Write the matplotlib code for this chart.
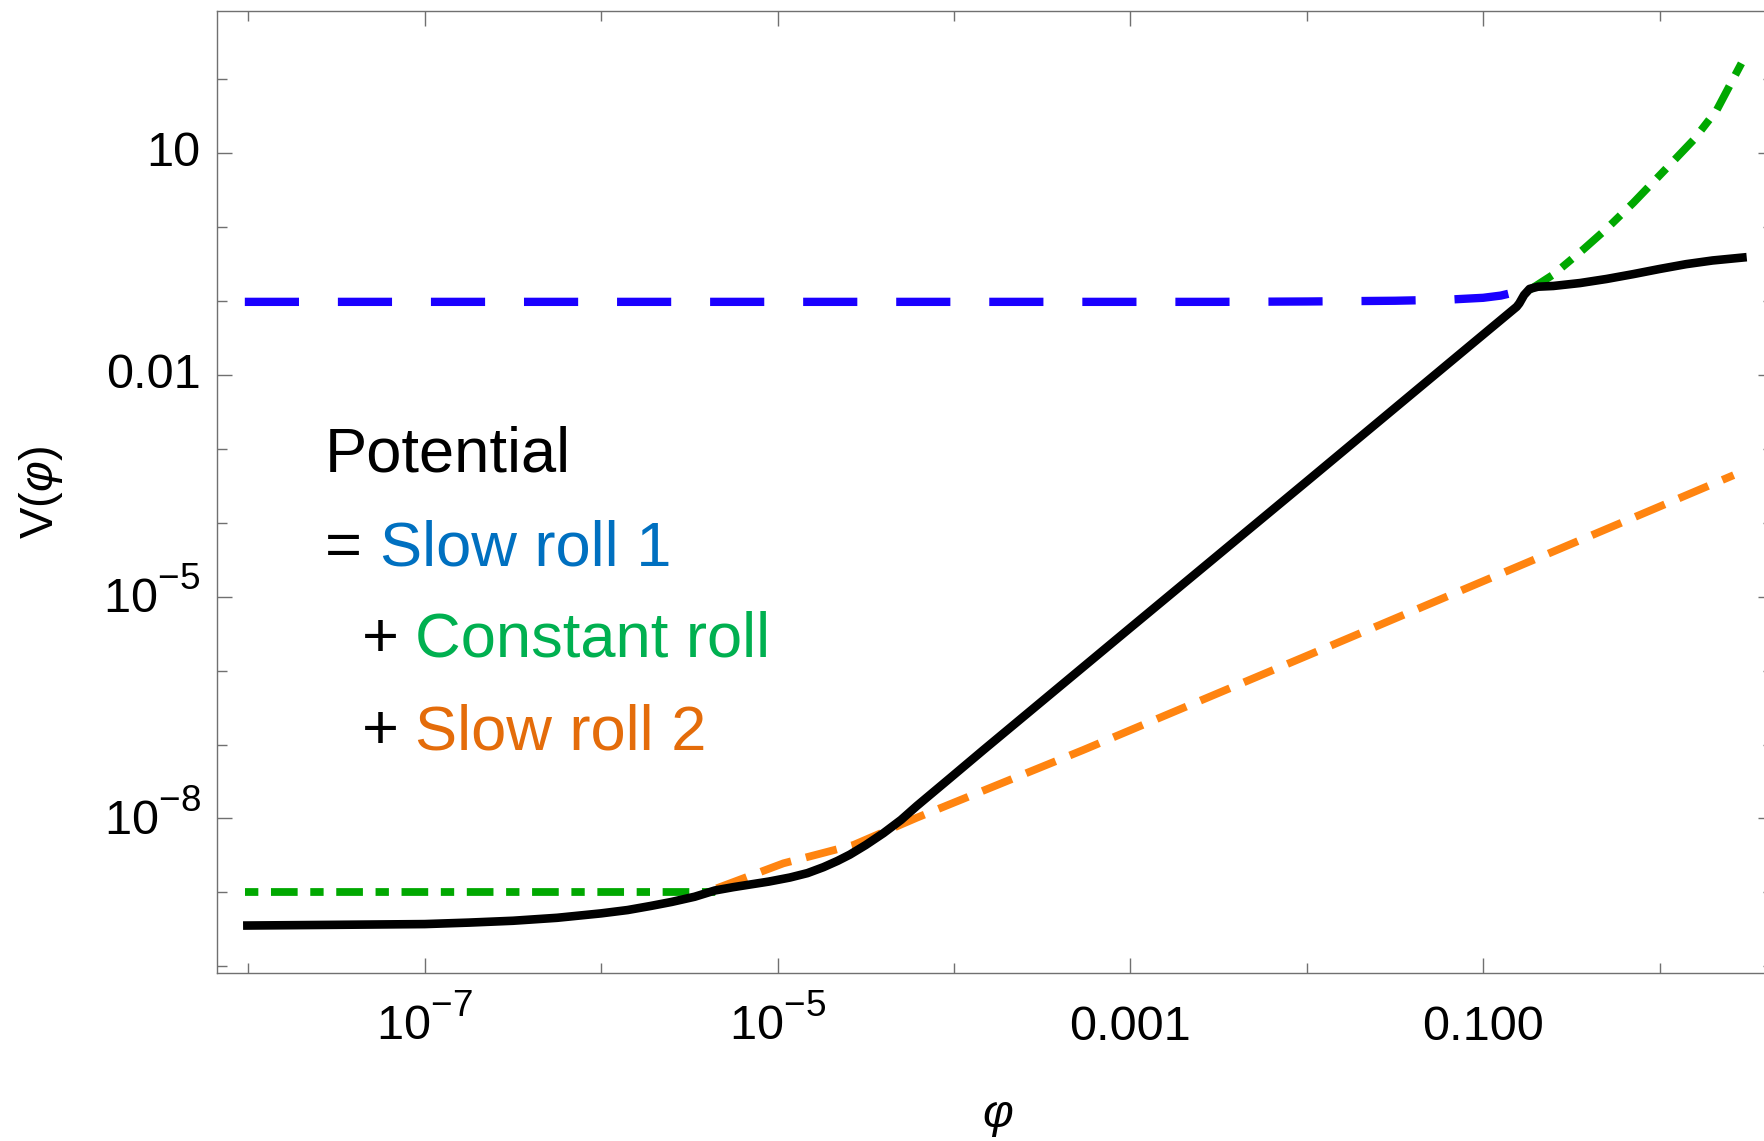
import matplotlib
matplotlib.use("Agg")
import numpy as np
import matplotlib.pyplot as plt
import matplotlib._mathtext as mt
from matplotlib.ticker import FixedLocator, NullFormatter

plt.rcParams['font.family'] = ['Liberation Sans', 'DejaVu Sans']
plt.rcParams['mathtext.fontset'] = 'custom'
plt.rcParams['mathtext.rm'] = 'Liberation Sans'
plt.rcParams['mathtext.it'] = 'Liberation Sans:italic'
plt.rcParams['lines.scale_dashes'] = False
# larger, higher exponents on the power-of-ten labels
mt.SHRINK_FACTOR = 0.76
mt.FontConstantsBase.sup1 = 0.85

# curves stored as log10(phi), log10(V)
black_logphi = [-8.03, -7.5, -7.0, -6.75, -6.5, -6.25, -6.0, -5.85, -5.72, -5.6,
                -5.47, -5.355, -5.25, -5.157, -5.05, -4.93, -4.83, -4.74, -4.66, -4.59,
                -4.50, -4.40, -4.30, -4.21, -4.02, -3.833, -3.0, -2.0, -1.2, -0.81,
                -0.795, -0.768, -0.737, -0.69, -0.602, -0.45, -0.30, -0.15, 0.0,
                0.15, 0.30, 0.494]
black_logV = [-9.45, -9.44, -9.43, -9.41, -9.385, -9.345, -9.285, -9.24, -9.185, -9.13,
              -9.06, -8.975, -8.93, -8.895, -8.855, -8.80, -8.74, -8.66, -8.575, -8.49,
              -8.36, -8.20, -8.02, -7.83, -7.45, -7.074, -5.42, -3.44, -1.85, -1.076,
              -1.03, -0.917, -0.835, -0.805, -0.795, -0.755, -0.70, -0.635, -0.565,
              -0.50, -0.45, -0.405]

slow1_logphi = [-8.02, -2.5, -2.0, -1.5, -1.2, -1.0, -0.9, -0.83, -0.737]
slow1_logV = [-1.01, -1.01, -1.005, -0.995, -0.98, -0.955, -0.925, -0.885, -0.845]

const_lo_logphi = [-8.02, -5.345]
const_lo_logV = [-9.0, -9.0]
const_hi_logphi = [-0.737, -0.602, -0.432, -0.30, -0.149, 0.04, 0.192, 0.324, 0.464]
const_hi_logV = [-0.848, -0.64, -0.30, -0.02, 0.33, 0.80, 1.18, 1.585, 2.218]

slow2_logphi = [-5.345, -4.967, -4.57, -4.21, -3.267, -2.0, -1.0, 0.0, 0.42]
slow2_logV = [-8.946, -8.608, -8.36, -7.99, -7.074, -5.80, -4.79, -3.78, -3.355]

xtick_vals = [1e-7, 1e-5, 1e-3, 1e-1]
xtick_labels = [r'$10^{-7}$', r'$10^{-5}$', '0.001', '0.100']
xminor_vals = [1e-8, 1e-6, 1e-4, 1e-2, 1.0]
ytick_vals = [1e-8, 1e-5, 1e-2, 10]
ytick_labels = [r'$10^{-8}$', r'$10^{-5}$', '0.01', '10']
yminor_vals = [1e-10, 1e-9, 1e-7, 1e-6, 1e-4, 1e-3, 0.1, 1, 100]

W, H = 1765, 1141
fig = plt.figure(figsize=(W / 100, H / 100), dpi=100)
ax = fig.add_axes([217.3 / W, 1 - 973.3 / H, (1773 - 217.3) / W, (973.3 - 11) / H])
ax.set_xscale('log')
ax.set_yscale('log')

def pw(a):
    return 10.0 ** np.asarray(a)

ax.plot(pw(slow1_logphi), pw(slow1_logV), color='#1a00ff', lw=6, dashes=(39, 28))
ax.plot(pw(const_lo_logphi), pw(const_lo_logV), color='#00a800', lw=5.6,
        dashes=(9.6, 9.1, 19.2, 9.1))
ax.plot(pw(const_hi_logphi), pw(const_hi_logV), color='#00a800', lw=5.6,
        dashes=(19.2, 9.1, 9.6, 9.1))
ax.plot(pw(slow2_logphi), pw(slow2_logV), color='#ff8410', lw=5.6, dashes=(23, 11))
ax.plot(pw(black_logphi), pw(black_logV), color='black', lw=6.2,
        solid_capstyle='butt', solid_joinstyle='round')

ax.set_xlim(10 ** -8.176, 10 ** 0.643)
ax.set_ylim(10 ** -10.096, 10 ** 2.926)

ax.xaxis.set_major_locator(FixedLocator(xtick_vals))
ax.xaxis.set_minor_locator(FixedLocator(xminor_vals))
ax.set_xticklabels(xtick_labels)
ax.xaxis.set_minor_formatter(NullFormatter())
ax.yaxis.set_major_locator(FixedLocator(ytick_vals))
ax.yaxis.set_minor_locator(FixedLocator(yminor_vals))
ax.set_yticklabels(ytick_labels)
ax.yaxis.set_minor_formatter(NullFormatter())

gray = '#707070'
for s in ax.spines.values():
    s.set_color(gray)
    s.set_linewidth(1.0)
ax.tick_params(which='both', direction='in', top=True, right=True, color=gray,
               width=1.0, labelsize=35, labelcolor='black')
ax.tick_params(which='major', length=10.8)
ax.tick_params(which='minor', length=7.2)
ax.tick_params(axis='x', pad=48)
ax.tick_params(axis='y', pad=12)
plt.setp(ax.get_xticklabels(), va='baseline')
plt.setp(ax.get_yticklabels(), va='center')

# axis labels
fig.text(41 / W, 1 - 493 / H, r'V$(\varphi)$', rotation=90, ha='center', va='center',
         fontsize=34)
fig.text(998 / W, 1 - 1127 / H, r'$\varphi$', ha='center', va='baseline', fontsize=34)

# annotation block
fs = 45.5
def put(x, y, s, c):
    fig.text(x / W, 1 - y / H, s, color=c, fontsize=fs, ha='left', va='baseline')

put(325, 471.7, 'Potential', 'black')
put(325, 565.7, '=', 'black')
put(380.5, 565.7, 'Slow roll 1', '#0070c0')
put(362, 656.7, '+', 'black')
put(415.5, 656.7, 'Constant roll', '#00b050')
put(362, 749.3, '+', 'black')
put(415.5, 749.3, 'Slow roll 2', '#e46c0a')

fig.savefig('out.png', dpi=100)
